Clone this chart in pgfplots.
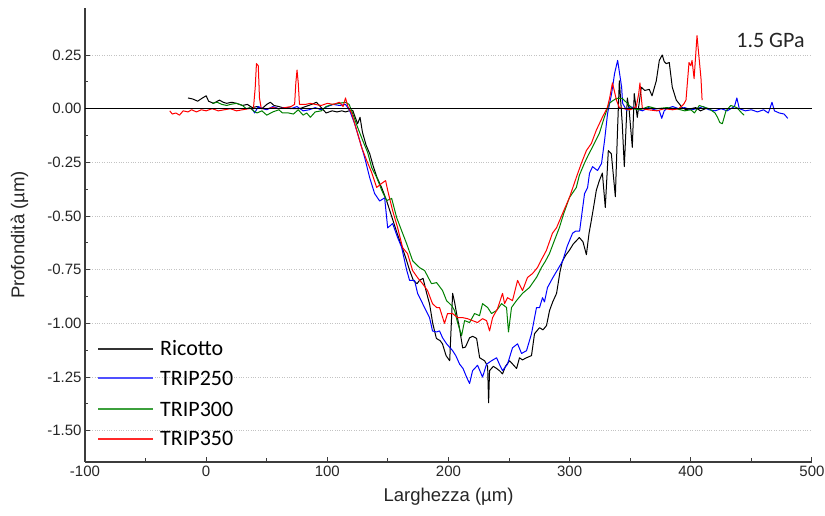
\documentclass[border=0pt]{standalone}
\usepackage{fontspec}
\setmainfont{Liberation Sans}
\newfontfamily\carlito{Carlito}
\usepackage{pgfplots}
\pgfplotsset{compat=1.18}
\definecolor{tripblue}{RGB}{0,0,255}
\definecolor{tripgreen}{RGB}{0,128,0}
\definecolor{tripred}{RGB}{255,0,0}
\definecolor{axisgray}{RGB}{60,60,60}
\definecolor{gridgray}{RGB}{195,195,195}
\definecolor{legblue}{RGB}{80,80,255}
\definecolor{leggreen}{RGB}{60,160,60}
\definecolor{legred}{RGB}{255,40,40}
\tikzset{legtext/.style={anchor=west, inner sep=0pt, text height=14pt, text depth=0pt, font=\carlito\fontsize{22}{26}\selectfont, text=black}}
\begin{document}
\begin{tikzpicture}
\begin{axis}[
  at={(0,0)}, anchor=south west,
  scale only axis, width=727pt, height=454pt,
  xmin=-100, xmax=500, ymin=-1.6455, ymax=0.469,
  axis x line*=bottom, axis y line*=left,
  axis line style={axisgray, line width=1.3pt},
  xtick={-100,0,100,200,300,400,500}, minor x tick num=1,
  ytick={-1.5,-1.25,-1,-0.75,-0.5,-0.25,0,0.25}, minor y tick num=1,
  tick align=inside, major tick length=5pt, minor tick length=3.5pt,
  tick style={axisgray, line width=1pt},
  ymajorgrids, major grid style={gridgray, dotted, line width=0.8pt},
  /pgf/number format/assume math mode=true,
  yticklabel style={/pgf/number format/fixed, /pgf/number format/fixed zerofill, /pgf/number format/precision=2},
  ticklabel style={font=\fontsize{15}{18}\selectfont, text=black!85},
  label style={font=\fontsize{18.5}{22}\selectfont, text=black!85},
  xlabel={Larghezza (µm)}, ylabel={Profondità (µm)},
  xlabel style={at={(axis description cs:0.5,-0.077)}, anchor=center},
  ylabel style={at={(axis description cs:-0.090,0.5)}, anchor=center},
]
\addplot[draw=black, line width=1pt, line join=round] coordinates {
(-15,0.05) (-11,0.045) (-7,0.035) (-3,0.05) (0,0.06) (2,0.035) (6,0.025) (11,0.04) (14,0.03) (17,0.025) (21,0.03) (25,0.025) (30,0.015) (34,0.02) (38,0.005) (42,0.01) (46,0.0) (50,0.02) (53,0.03) (56,0.015) (60,0.01) (63,0.005) (67,0.005) (72,0.0) (77,0.0) (82,0.01) (87,0.02) (91,0.03) (95,0.005) (99,-0.02) (104,-0.01) (108,-0.015) (112,-0.01) (115,-0.015) (118,-0.01) (121,-0.008) (123,-0.04) (125,-0.07) (127,-0.04) (129,-0.11) (132,-0.17) (135,-0.21) (138,-0.27) (141,-0.32) (145,-0.37) (149,-0.43) (153,-0.5) (157,-0.57) (160,-0.62) (162,-0.65) (165,-0.70) (168,-0.754) (171,-0.80) (174,-0.815) (176,-0.80) (179,-0.79) (182,-0.86) (184.4,-0.91) (187,-1.0) (190,-1.07) (193,-1.08) (195,-1.095) (198,-1.15) (201,-1.174) (203.4,-0.86) (205,-0.90) (206.7,-0.955) (209,-1.02) (211.7,-1.114) (214,-1.11) (217.4,-1.067) (220,-1.06) (223.2,-1.07) (225.7,-1.16) (229.8,-1.174) (232.3,-1.20) (233.1,-1.37) (233.9,-1.22) (237,-1.2) (239.7,-1.21) (242,-1.22) (244.6,-1.235) (247,-1.2) (250.4,-1.174) (253,-1.19) (256.2,-1.21) (258.6,-1.16) (261,-1.17) (264.4,-1.16) (268.5,-1.15) (271,-1.048) (275.1,-1.02) (278,-1.03) (280.9,-1.01) (283.4,-0.94) (286,-0.90) (289.2,-0.86) (292,-0.76) (294,-0.71) (297,-0.68) (299.7,-0.66) (303,-0.63) (308,-0.60) (311,-0.62) (313.8,-0.68) (316,-0.58) (317.9,-0.52) (320,-0.45) (322,-0.38) (324.5,-0.335) (327,-0.30) (329.4,-0.46) (331.9,-0.195) (334.4,-0.21) (337.7,-0.41) (339.5,-0.1) (341,0.13) (343.4,-0.07) (345.1,-0.27) (347.6,0.05) (349,0.0) (351.7,-0.18) (353.3,0.07) (355.8,-0.04) (359.1,0.10) (362,0.085) (365.7,0.09) (368,0.06) (371.5,0.13) (374,0.225) (376.4,0.25) (378,0.22) (379.7,0.21) (382.2,0.215) (384.7,0.10) (388,0.04) (392.9,0.005) (396,-0.005) (400,0.0) (404,0.005) (408,-0.01) (412,0.0) (416.8,0.0)
};

\addplot[draw=tripblue, line width=1pt, line join=round] coordinates {
(38,0.0) (40,-0.02) (43,0.01) (47,0.0) (50,-0.005) (55,0.01) (60,0.0) (65,0.005) (70,0.0) (75,0.01) (80,-0.01) (85,-0.005) (90,0.005) (95,-0.005) (100,0.01) (105,0.02) (110,0.015) (115,0.02) (118.4,-0.008) (122.5,-0.069) (126.7,-0.148) (130.8,-0.227) (134.9,-0.32) (139,-0.395) (143.2,-0.43) (147.3,-0.415) (149.8,-0.555) (153.9,-0.535) (158,-0.60) (161.3,-0.645) (165.4,-0.75) (167.9,-0.80) (172,-0.80) (174.5,-0.86) (180.3,-0.927) (184.4,-0.974) (186.8,-1.035) (190,-1.04) (192.6,-1.035) (195.1,-1.067) (198.4,-1.095) (203.4,-1.127) (206,-1.15) (209.2,-1.19) (212,-1.21) (214.9,-1.25) (217.4,-1.28) (219.9,-1.22) (224,-1.195) (228.1,-1.25) (231.4,-1.19) (235.5,-1.174) (239.7,-1.16) (242,-1.19) (244.6,-1.22) (248.7,-1.19) (252.8,-1.114) (257,-1.095) (260.3,-1.14) (264.4,-1.127) (268.5,-1.048) (272.6,-0.927) (275.1,-0.927) (277.6,-0.88) (279.2,-0.90) (281.7,-0.833) (285.8,-0.79) (290,-0.75) (294.2,-0.71) (298,-0.64) (302.4,-0.58) (305,-0.57) (308.2,-0.57) (312.3,-0.395) (314.8,-0.367) (316.4,-0.30) (318.9,-0.27) (323,-0.288) (326.3,-0.255) (328.8,-0.148) (331.3,-0.022) (334.6,0.07) (337.1,0.165) (339.6,0.225) (342.9,0.10) (343.7,0.025) (347,-0.008) (350,0.01) (355,0.0) (360,-0.01) (365,0.005) (370,-0.005) (374,-0.01) (376,-0.045) (378,-0.01) (380,0.0) (385,0.01) (390,0.0) (395,0.005) (400,-0.005) (405,0.0) (410,0.01) (415,-0.005) (420,-0.01) (425,0.0) (430,-0.01) (436,0.01) (438,0.05) (440,0.0) (445,-0.01) (450,-0.005) (455,-0.015) (460,-0.005) (464,-0.02) (467,0.03) (469,-0.01) (473,-0.02) (477,-0.025) (480,-0.045)
};

\addplot[draw=tripgreen, line width=1pt, line join=round] coordinates {
(5,0.025) (9,0.03) (13,0.02) (17,0.015) (20,0.02) (25,0.025) (30,0.015) (33,0.0) (36,0.005) (39,-0.01) (42,-0.02) (46,-0.01) (50,-0.03) (55,-0.015) (60,-0.005) (63,-0.02) (68,-0.02) (72,-0.025) (76,-0.005) (80,-0.03) (83,-0.02) (86,-0.04) (90,-0.015) (95,-0.01) (99,0.01) (104,0.02) (110,0.025) (115,0.03) (118,0.02) (120.9,-0.022) (125,-0.087) (129.2,-0.148) (133.3,-0.204) (136.6,-0.274) (140.7,-0.32) (144.9,-0.38) (149,-0.428) (153.1,-0.418) (157.2,-0.507) (161.3,-0.568) (165.4,-0.628) (170.4,-0.708) (176.1,-0.74) (180.3,-0.754) (186,-0.815) (190.2,-0.81) (195.1,-0.847) (198.4,-0.894) (202.6,-0.917) (205,-0.94) (207.5,-0.996) (210.8,-1.057) (213.3,-0.987) (217.4,-0.996) (221.5,-0.954) (225.6,-0.964) (228.1,-0.908) (232.3,-0.926) (235.5,-0.954) (239.7,-0.94) (243.8,-0.908) (247.9,-0.926) (249.5,-1.04) (252,-0.926) (256.1,-0.894) (261.1,-0.86) (266.8,-0.833) (272.6,-0.786) (276.7,-0.74) (280,-0.71) (283.3,-0.675) (287,-0.62) (291.5,-0.554) (295,-0.49) (299.8,-0.414) (305.5,-0.367) (308,-0.31) (312.1,-0.255) (315,-0.22) (318.7,-0.18) (324.5,-0.115) (328.6,-0.04) (332.7,0.025) (335,0.035) (338.5,0.048) (343.4,0.048) (347.6,0.025) (351.7,0.0) (358,-0.005) (365,0.01) (372,0.0) (380,0.005) (388,0.0) (395,-0.01) (400,-0.005) (403,-0.02) (407,0.015) (415,0.0) (420,-0.02) (422,-0.04) (424,-0.065) (426,-0.07) (429,-0.01) (433,0.015) (438,0.005) (442,-0.02) (444,-0.03)
};

\addplot[draw=tripred, line width=1pt, line join=round] coordinates {
(-30,-0.01) (-28,-0.025) (-25,-0.02) (-22,-0.03) (-19,-0.01) (-15,-0.015) (-12,-0.005) (-8,-0.015) (-4,-0.005) (0,-0.01) (5,0.0) (10,-0.01) (15,-0.005) (20,0.0) (25,-0.01) (30,-0.005) (35,0.0) (39,0.0) (40.5,0.1) (41.5,0.21) (43,0.2) (44,0.05) (45.5,0.0) (50,0.0) (55,0.005) (60,0.0) (65,0.005) (70,0.01) (73,0.02) (74,0.12) (75,0.18) (76,0.12) (77,0.02) (82,0.02) (86,0.025) (90,0.02) (95,0.015) (100,0.025) (105,0.02) (110,0.03) (113,0.01) (115,0.05) (117,0.01) (120.1,-0.022) (124.2,-0.10) (128.3,-0.18) (132.4,-0.24) (136.6,-0.297) (140.7,-0.367) (144.8,-0.348) (148.1,-0.335) (149.8,-0.38) (153.9,-0.475) (158,-0.554) (162.1,-0.647) (166.2,-0.675) (170.4,-0.754) (174.5,-0.787) (178.6,-0.815) (182.7,-0.847) (186.8,-0.908) (190.2,-0.926) (192.6,-0.926) (196.7,-1.0) (199.2,-0.954) (203.3,-0.954) (207.5,-0.973) (211.6,-0.973) (215.7,-0.978) (219.8,-0.987) (223.9,-0.996) (228.1,-0.978) (231.4,-0.987) (233.9,-1.035) (236.4,-0.973) (240.5,-0.931) (244.6,-0.86) (246.3,-0.908) (248.7,-0.88) (252.8,-0.894) (257,-0.80) (261.1,-0.847) (265.2,-0.786) (269.3,-0.768) (273.4,-0.74) (277,-0.70) (280.8,-0.66) (285.8,-0.58) (289.2,-0.554) (294,-0.49) (299.8,-0.414) (305.5,-0.32) (309.6,-0.255) (313.8,-0.195) (317.9,-0.162) (322,-0.10) (327,-0.04) (331.1,0.005) (333,0.05) (335.3,0.12) (337,0.08) (338.6,0.04) (341,0.005) (345,0.0) (350,-0.005) (355,0.01) (357,0.07) (358,0.12) (359,0.06) (360,0.0) (365,-0.005) (372,-0.01) (378,0.0) (385,-0.005) (390,0.0) (394,0.02) (396,0.04) (398.5,0.215) (400,0.2) (401,0.225) (402.7,0.14) (405.1,0.34) (408.4,0.14) (409.3,0.04)
};

\addplot[draw=black, line width=1.2pt] coordinates {(-100,0) (500,0)};

\draw[black!80, line width=1.6pt] (rel axis cs:0.0179,0.2489) -- (rel axis cs:0.0935,0.2489);
\draw[legblue, line width=1.6pt] (rel axis cs:0.0179,0.1844) -- (rel axis cs:0.0935,0.1844);
\draw[leggreen, line width=1.6pt] (rel axis cs:0.0179,0.1167) -- (rel axis cs:0.0935,0.1167);
\draw[legred, line width=1.6pt] (rel axis cs:0.0179,0.0507) -- (rel axis cs:0.0935,0.0507);
\node[legtext] at (rel axis cs:0.1032,0.2489) {Ricotto};
\node[legtext] at (rel axis cs:0.1032,0.1844) {TRIP250};
\node[legtext] at (rel axis cs:0.1032,0.1167) {TRIP300};
\node[legtext] at (rel axis cs:0.1032,0.0507) {TRIP350};

\node[anchor=base east, inner sep=0pt, font=\carlito\fontsize{22}{26}\selectfont, text=black!85] at (rel axis cs:0.990,0.914) {1.5 GPa};
\end{axis}
\pgfresetboundingbox
\path[use as bounding box] (-85pt,-54pt) rectangle (740pt,462pt);
\end{tikzpicture}
\end{document}
